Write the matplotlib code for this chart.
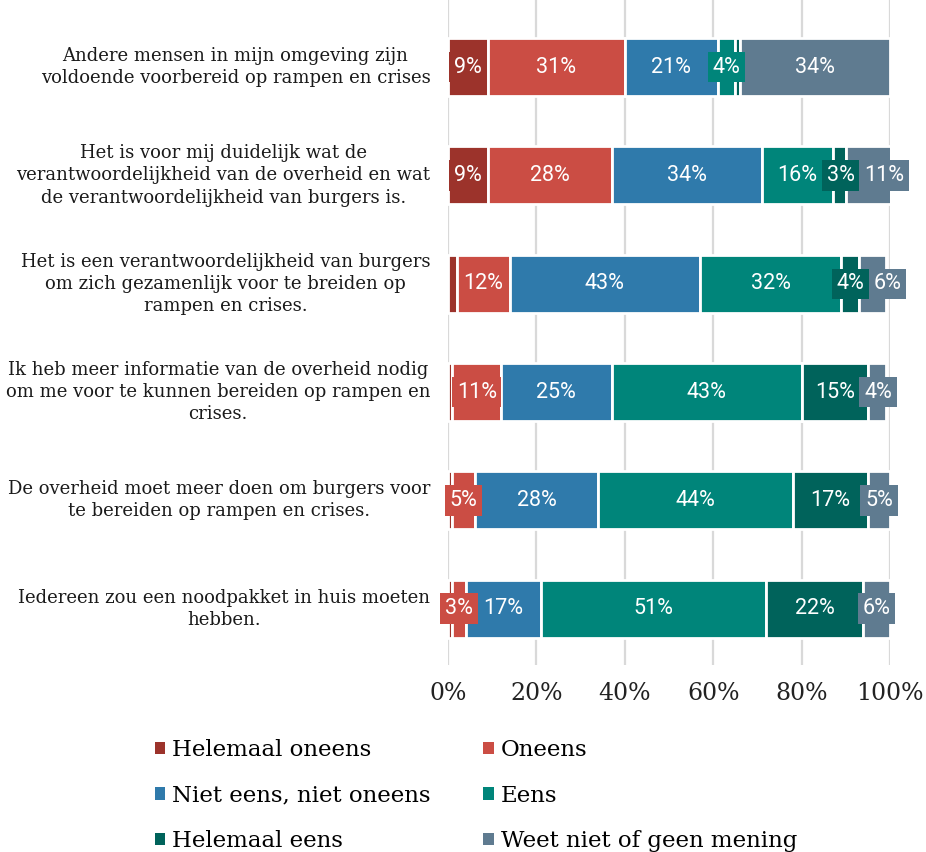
import matplotlib
matplotlib.use("Agg")
import matplotlib.pyplot as plt
from matplotlib.patches import Patch
import numpy as np

categories = [
    "Andere mensen in mijn omgeving zijn\nvoldoende voorbereid op rampen en crises",
    "Het is voor mij duidelijk wat de\nverantwoordelijkheid van de overheid en wat\nde verantwoordelijkheid van burgers is.",
    "Het is een verantwoordelijkheid van burgers\nom zich gezamenlijk voor te breiden op\nrampen en crises.",
    "Ik heb meer informatie van de overheid nodig\nom me voor te kunnen bereiden op rampen en\ncrises.",
    "De overheid moet meer doen om burgers voor\nte bereiden op rampen en crises.",
    "Iedereen zou een noodpakket in huis moeten\nhebben.",
]
series_names = ["Helemaal oneens", "Oneens", "Niet eens, niet oneens", "Eens",
                "Helemaal eens", "Weet niet of geen mening"]
helemaal_oneens = [9, 9, 2, 1, 1, 1]
oneens = [31, 28, 12, 11, 5, 3]
neutraal = [21, 34, 43, 25, 28, 17]
eens = [4, 16, 32, 43, 44, 51]
helemaal_eens = [1, 3, 4, 15, 17, 22]
weet_niet = [34, 11, 6, 4, 5, 6]
tick_values = [0, 20, 40, 60, 80, 100]
tick_labels = ["0%", "20%", "40%", "60%", "80%", "100%"]

colors = ["#9c332b", "#cb4d44", "#2f7aab", "#00857a", "#00635b", "#5f7b90"]
series = [helemaal_oneens, oneens, neutraal, eens, helemaal_eens, weet_niet]

W, H, DPI = 926, 852, 100
fig = plt.figure(figsize=(W / DPI, H / DPI), dpi=DPI)
ax = fig.add_axes([448 / W, (H - 665) / H, 442 / W, 665 / H])

y = np.arange(len(categories))
left = np.zeros(len(categories))
bars = []
for vals, col in zip(series, colors):
    vals = np.array(vals, dtype=float)
    ax.barh(y, vals, left=left, height=0.535, color=col,
            edgecolor="white", linewidth=2, zorder=2)
    bars.append((vals, left.copy()))
    left += vals

ax.set_xlim(0, 100)
ax.set_ylim(len(categories) - 0.48, -0.62)
ax.set_xticks(tick_values)
ax.set_xticklabels(tick_labels, fontfamily="DejaVu Serif", fontsize=17, color="#222222")
ax.tick_params(axis="x", length=0, pad=12)
ax.set_yticks([])
for s in ax.spines.values():
    s.set_visible(False)
ax.grid(axis="x", color="#d9d9d9", linewidth=1.6, zorder=0)
ax.set_axisbelow(True)

for i, cat in enumerate(categories):
    ax.text(-0.04, i, cat, transform=ax.get_yaxis_transform(), ha="right",
            va="center", ma="center", fontfamily="DejaVu Serif", fontsize=13,
            color="#1a1a1a", linespacing=1.3)

# value labels
label_fs = 15.5
pad_frac = 0.22
texts = []
for si, ((vals, lefts), col) in enumerate(zip(bars, colors)):
    for i in range(len(categories)):
        v = vals[i]
        if v < 2.5:
            continue
        t = ax.text(lefts[i] + v / 2, i, f"{int(round(v))}%", ha="center", va="center",
                    fontfamily="Roboto", fontsize=label_fs,
                    color="white", zorder=5 + si,
                    bbox=dict(boxstyle=f"square,pad={pad_frac}", facecolor=col,
                              edgecolor="none"))
        texts.append((i, si, t))

fig.canvas.draw()
renderer = fig.canvas.get_renderer()
pad_px = pad_frac * label_fs * DPI / 72
inv = ax.transData.inverted()
prev_right = {}
for i, si, t in sorted(texts, key=lambda x: (x[0], x[1])):
    bb = t.get_window_extent(renderer)
    l = bb.x0 - pad_px
    r = bb.x1 + pad_px
    pr = prev_right.get(i)
    if pr is not None and l < pr:
        shift = pr - l
        x0 = inv.transform((bb.x0, 0))[0]
        x1 = inv.transform((bb.x0 + shift, 0))[0]
        t.set_x(t.get_position()[0] + (x1 - x0))
        r += shift
    prev_right[i] = r

handles = [Patch(facecolor=c, edgecolor="none") for c in colors]
order = [0, 2, 4, 1, 3, 5]
fig.legend([handles[k] for k in order], [series_names[k] for k in order],
           loc="upper left", bbox_to_anchor=(155 / W, 1 - 739 / H),
           ncol=2, frameon=False, prop={"family": "DejaVu Serif", "size": 16.5},
           handlelength=0.45, handleheight=0.45, handletextpad=0.3,
           columnspacing=2.3, labelspacing=1.03, borderpad=0, borderaxespad=0)

fig.savefig("out.png", dpi=DPI)
